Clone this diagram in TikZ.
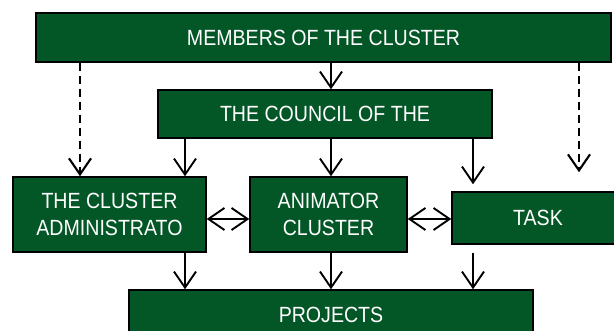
\documentclass[tikz,border=0pt]{standalone}
\usepackage{fontspec}
\setmainfont{Liberation Sans}[FakeStretch=0.89]
\usetikzlibrary{arrows.meta}
\definecolor{clustergreen}{RGB}{3,86,38}
\tikzset{
  box/.style={draw=black, line width=1.5pt, fill=clustergreen, text=white,
    align=center, inner sep=0pt, font=\fontsize{22}{27}\selectfont},
  arr/.style={-{Straight Barb[length=16pt,width=22pt]}, line width=1.9pt},
  dblarr/.style={{Straight Barb[length=16pt,width=22pt]}-{Straight Barb[length=16pt,width=22pt]}, line width=1.9pt},
  dasharr/.style={arr, line width=2.1pt, dash pattern=on 8pt off 5pt}
}
\begin{document}
\begin{tikzpicture}[x=1pt,y=-1pt]
  \useasboundingbox (0,0) rectangle (614,331);
  \clip (0,0) rectangle (614,331);
  % boxes
  \node[box, minimum width=575pt, minimum height=49pt] (members) at (323.5,37.5) {MEMBERS OF THE CLUSTER};
  \node[box, minimum width=334pt, minimum height=48pt] (council) at (325,114) {THE COUNCIL OF THE};
  \node[box, minimum width=193pt, minimum height=75pt] (admin) at (109.5,214.5) {THE CLUSTER\\ADMINISTRATO};
  \node[box, minimum width=157pt, minimum height=75pt] (animator) at (328.5,214.5) {ANIMATOR\\CLUSTER};
  \node[box, minimum width=172pt, minimum height=52pt] (task) at (538,218) {TASK};
  \node[box, minimum width=404pt, minimum height=50pt] (projects) at (331,315) {PROJECTS};
  % columns and row for the connectors
  \coordinate (outleft) at (80,0);
  \coordinate (leftcol) at (185,0);
  \coordinate (midcol) at (331,0);
  \coordinate (rightcol) at (473,0);
  \coordinate (outright) at (579,0);
  \coordinate (row) at (0,219);
  % members down
  \draw[arr] (members.south -| midcol) -- (council.north -| midcol);
  \draw[dasharr] (members.south -| outleft) -- (admin.north -| outleft);
  \draw[dasharr, shorten >=19pt] (members.south -| outright) -- (task.north -| outright);
  % council down
  \draw[arr] (council.south -| leftcol) -- (admin.north -| leftcol);
  \draw[arr] (council.south -| midcol) -- (animator.north -| midcol);
  \draw[arr, shorten >=7pt] (council.south -| rightcol) -- (task.north -| rightcol);
  % side links
  \draw[dblarr] (admin.east |- row) -- (animator.west |- row);
  \draw[dblarr] (animator.east |- row) -- (task.west |- row);
  % down to projects
  \draw[arr] (admin.south -| leftcol) -- (projects.north -| leftcol);
  \draw[arr] (animator.south -| midcol) -- (projects.north -| midcol);
  \draw[arr, shorten <=8pt] (task.south -| rightcol) -- (projects.north -| rightcol);
\end{tikzpicture}
\end{document}
